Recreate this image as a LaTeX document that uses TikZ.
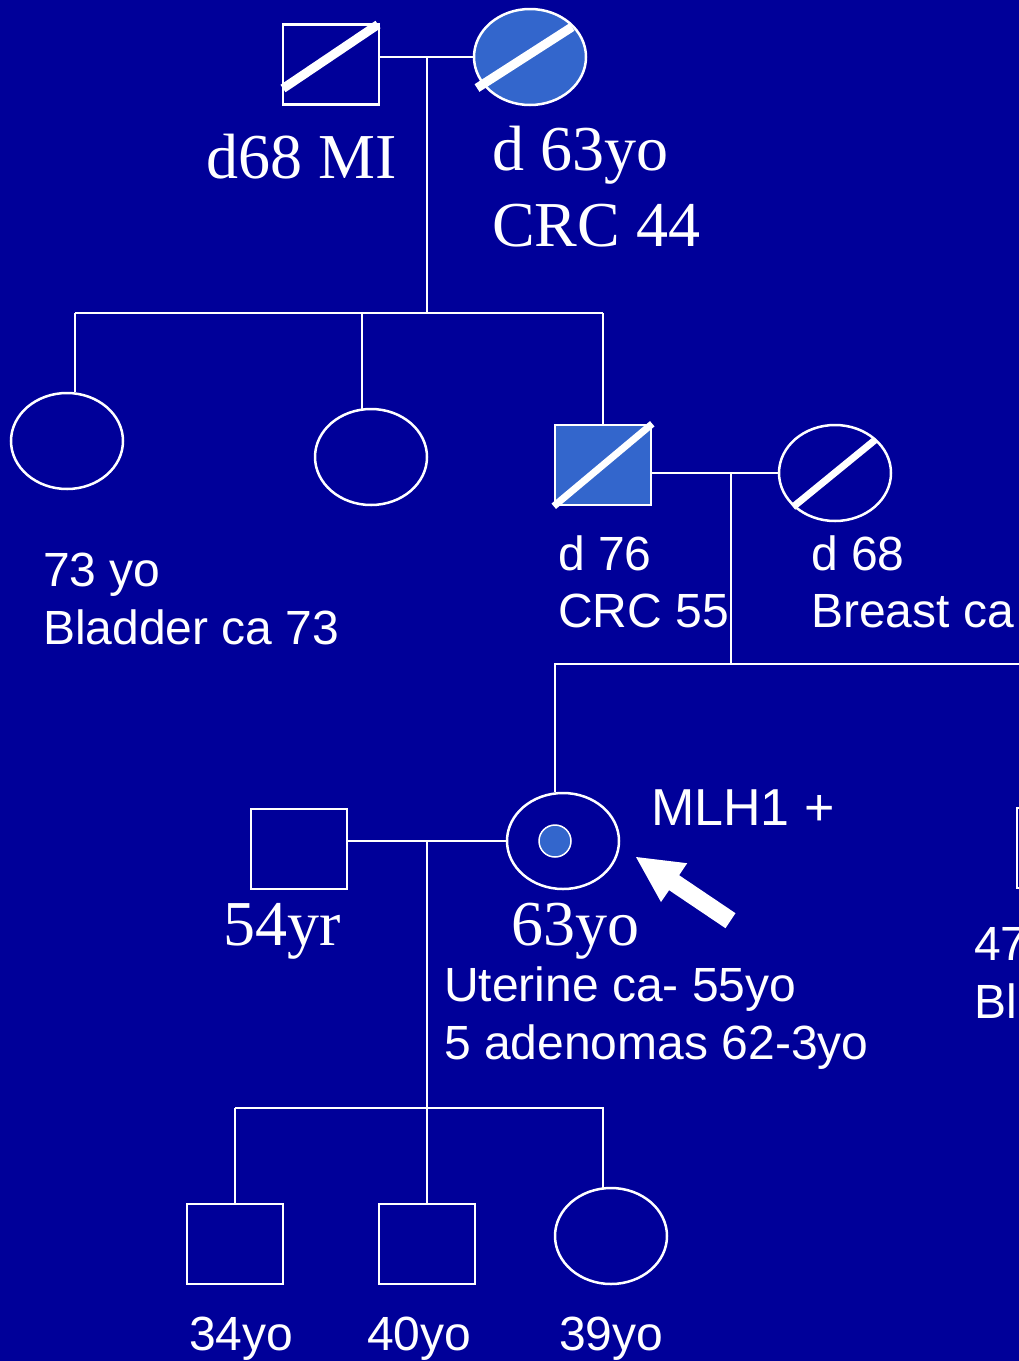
\documentclass[tikz,border=0pt]{standalone}
\usepackage{fontspec}
\setmainfont{Liberation Serif}
\setsansfont{Liberation Sans}
\usetikzlibrary{shapes.geometric,calc}
\definecolor{bgblue}{HTML}{000099}
\definecolor{affblue}{HTML}{3366CC}
\begin{document}
\begin{tikzpicture}[x=1pt,y=-1pt,
male/.style={draw=white, line width=2.5pt, minimum width=96pt, minimum height=80pt, inner sep=0},
female/.style={ellipse, draw=white, line width=2.5pt, minimum width=112pt, minimum height=96pt, inner sep=0},
affected/.style={fill=affblue},
slash/.style={draw=white, line width=9pt},
kin/.style={draw=white, line width=2.2pt},
sanslbl/.style={font=\sffamily\fontsize{48}{56}\selectfont, text=white, inner sep=0, anchor=base west},
seriflbl/.style={font=\rmfamily\fontsize{64}{74}\selectfont, text=white, inner sep=0, anchor=base west}]
\useasboundingbox (0,0) rectangle (1019,1361);
\fill[bgblue] (0,0) rectangle (1019,1361);
\clip (0,0) rectangle (1019,1361);
\node[male] (gf) at (331,64.5) {};
\node[female, affected] (gm) at (530,57) {};
\draw[slash] ($(gf.center)+(-48,24)$) -- ($(gf.center)+(47,-40)$);
\draw[slash] ($(gm.center)+(-53,31)$) -- ($(gm.center)+(42,-30)$);
\coordinate (gpm) at (427,57);
\draw[kin] (gf.east |- gm.west) -- (gm.west);
\node[female] (aunta) at (67,441) {};
\node[female] (auntb) at (371,457) {};
\node[male, affected] (fa) at (603,465) {};
\node[female] (mo) at (835,473) {};
\draw[slash, line width=7pt] (fa.south west) -- (fa.north east);
\draw[slash, line width=7pt] ($(mo.center)+(-42,34)$) -- ($(mo.center)+(40,-33)$);
\coordinate (sib1) at (427,313);
\coordinate (dropa) at (75,313);
\draw[kin] (gpm) -- (sib1);
\draw[kin] (dropa) -- (fa.north |- sib1);
\draw[kin] (dropa) -- (dropa |- aunta.north);
\draw[kin] (362,313) -- (362,409);
\draw[kin] (fa.north |- sib1) -- (fa.north);
\coordinate (pm) at (731,473);
\coordinate (sib2) at (731,664);
\draw[kin] (fa.east |- mo.west) -- (mo.west);
\draw[kin] (pm) -- (sib2);
\node[female] (pro) at (563,841) {};
\node[circle, draw=white, line width=1.5pt, fill=affblue, minimum size=32pt, inner sep=0] (dot) at (555,841) {};
\node[male] (hu) at (299,849) {};
\node[male] (un) at (1065,848) {};
\draw[kin] (pro.north -| dot) |- (1030,664);
\draw[kin] (hu.east |- pro.west) -- (pro.west);
\coordinate (cm) at (427,841);
\coordinate (sib3) at (427,1108);
\draw[kin] (cm) -- (sib3);
\node[male] (soa) at (235,1244) {};
\node[male] (sob) at (427,1244) {};
\node[female] (da) at (611,1236) {};
\draw[kin] (soa.north |- sib3) -- (603,1108) -- (603,1188);
\draw[kin] (soa.north |- sib3) -- (soa.north);
\draw[kin] (sib3) -- (sob.north);
\fill[white] (636,857) -- (687.2,863.2) -- (679.1,875.2) -- (735.5,913.2) -- (725.5,928.2) -- (669.1,890.2) -- (661,902) -- cycle;
\node[seriflbl] (l1) at (206,178) {d68 MI};
\node[seriflbl] (l2) at (492,170) {d 63yo};
\node[seriflbl] (l3) at (492,246) {CRC 44};
\node[sanslbl] (l4) at (43,586) {73 yo};
\node[sanslbl] (l5) at (43,644) {Bladder ca 73};
\node[sanslbl] (l6) at (558,570) {d 76};
\node[sanslbl] (l7) at (558,627) {CRC 55};
\node[sanslbl] (l8) at (811,570) {d 68};
\node[sanslbl] (l9) at (811,627) {Breast ca};
\node[sanslbl, font=\sffamily\fontsize{52}{60}\selectfont] (l10) at (651,825) {MLH1 +};
\node[seriflbl] (l11) at (223,945) {54yr};
\node[seriflbl] (l12) at (511,945) {63yo};
\node[sanslbl] (l13) at (444,1001) {Uterine ca- 55yo};
\node[sanslbl] (l14) at (444,1059) {5 adenomas 62-3yo};
\node[sanslbl] (l15) at (974,960) {47};
\node[sanslbl] (l16) at (974,1018) {Bl};
\node[sanslbl] (l17) at (189,1350) {34yo};
\node[sanslbl] (l18) at (367,1350) {40yo};
\node[sanslbl] (l19) at (559,1350) {39yo};
\end{tikzpicture}
\end{document}
